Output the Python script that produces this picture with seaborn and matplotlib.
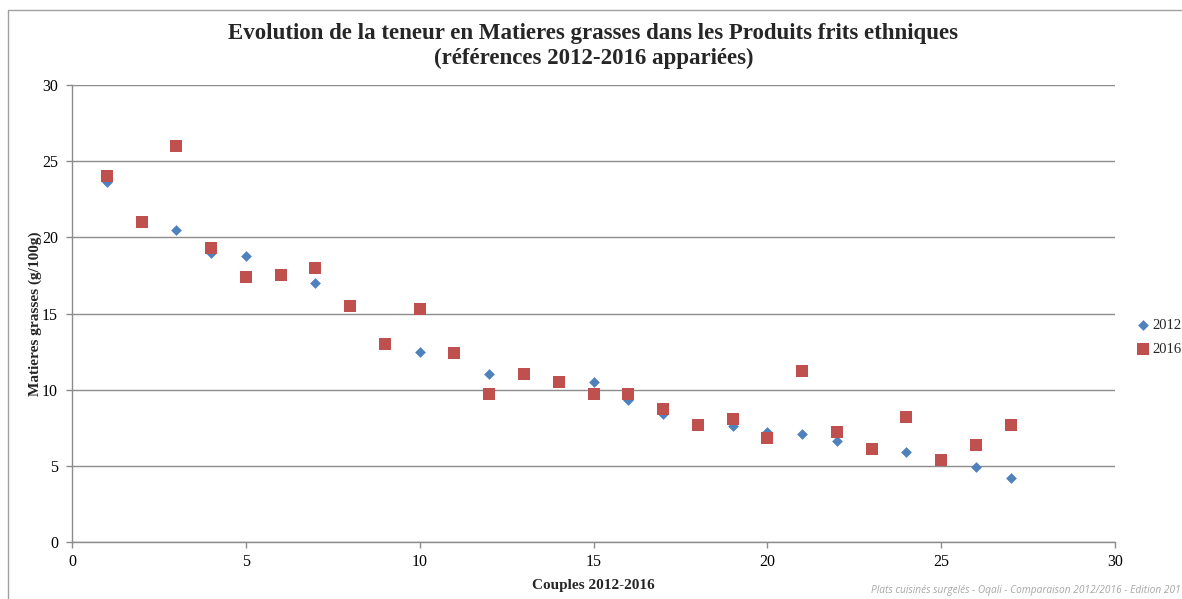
import matplotlib
matplotlib.use("Agg")
import matplotlib.pyplot as plt
import seaborn as sns
import pandas as pd
from matplotlib.lines import Line2D

couples = list(range(1, 28))
fat_2012 = [23.6, 21.0, 20.5, 19.0, 18.8, 17.5, 17.0, 15.5, 13.0, 12.5,
            12.4, 11.0, 11.0, 10.5, 10.5, 9.3, 8.4, 7.7, 7.6, 7.2,
            7.1, 6.6, 6.1, 5.9, 5.4, 4.9, 4.2]
fat_2016 = [24.0, 21.0, 26.0, 19.3, 17.4, 17.5, 18.0, 15.5, 13.0, 15.3,
            12.4, 9.7, 11.0, 10.5, 9.7, 9.7, 8.7, 7.7, 8.1, 6.8,
            11.2, 7.2, 6.1, 8.2, 5.4, 6.4, 7.7]
series_labels = ["2012", "2016"]
x_ticks = [0, 5, 10, 15, 20, 25, 30]
y_ticks = [0, 5, 10, 15, 20, 25, 30]

title = ("Evolution de la teneur en Matieres grasses dans les Produits frits ethniques\n"
         "(références 2012-2016 appariées)")
xlabel = "Couples 2012-2016"
ylabel = "Matieres grasses (g/100g)"
footer = "Plats cuisinés surgelés - Oqali - Comparaison 2012/2016 - Edition 201"

df12 = pd.DataFrame({"x": couples, "y": fat_2012})
df16 = pd.DataFrame({"x": couples, "y": fat_2016})

sns.set_style("white")
plt.rcParams["font.family"] = ["Liberation Serif", "DejaVu Serif"]

W, H = 1182, 599
fig = plt.figure(figsize=(W / 100, H / 100), dpi=100)
ax = fig.add_axes([72 / W, 1 - 542 / H, (1115 - 72) / W, (542 - 85) / H])

blue = "#4F81BD"
red = "#C0504D"
sns.scatterplot(data=df12, x="x", y="y", ax=ax, marker="D", s=30, color=blue,
                edgecolor=blue, linewidth=0, label=series_labels[0], zorder=3)
sns.scatterplot(data=df16, x="x", y="y", ax=ax, marker="s", s=66, color=red,
                edgecolor=red, linewidth=0, label=series_labels[1], zorder=4)

ax.set_xlim(0, 30)
ax.set_ylim(0, 30)
ax.set_xticks(x_ticks)
ax.set_yticks(y_ticks)
ax.yaxis.grid(True, color="#8c8c8c", linewidth=1)
ax.xaxis.grid(False)
ax.set_axisbelow(True)
for s in ["top", "right"]:
    ax.spines[s].set_visible(False)
for s in ["left", "bottom"]:
    ax.spines[s].set_color("#8c8c8c")
    ax.spines[s].set_linewidth(1)
ax.tick_params(axis="both", which="major", length=4, width=1, color="#8c8c8c",
               direction="out", labelsize=11.5, labelcolor="#000000", pad=6)
ax.tick_params(axis="x", pad=5)
ax.tick_params(left=True, bottom=True)

ax.set_xlabel(xlabel, fontsize=11, fontweight="bold", labelpad=6)
ax.set_ylabel(ylabel, fontsize=11, fontweight="bold", labelpad=0)

fig.text(0.5 * (72 + 1115) / W, 1 - 46 / H, title, ha="center", va="center",
         fontsize=16.5, fontweight="bold", linespacing=1.22)

leg = ax.legend(loc="center left", bbox_to_anchor=(1128 / W, 1 - 337 / H),
                bbox_transform=fig.transFigure, frameon=False, fontsize=10.5,
                handletextpad=0.2, handlelength=1.0, labelspacing=0.75, borderpad=0)

fig.text(1 - 1 / W, 1 - 591 / H, footer, ha="right", va="center", fontsize=7.3,
         style="italic", color="#a6a6a6", family=["Open Sans", "DejaVu Sans"])

# outer chart border (top and left edges visible)
fig.add_artist(Line2D([8 / W, 8 / W], [0, 1 - 10 / H], transform=fig.transFigure,
                      color="#a0a0a0", linewidth=1))
fig.add_artist(Line2D([8 / W, 1], [1 - 10 / H, 1 - 10 / H], transform=fig.transFigure,
                      color="#a0a0a0", linewidth=1))

fig.savefig("out.png", dpi=100)
